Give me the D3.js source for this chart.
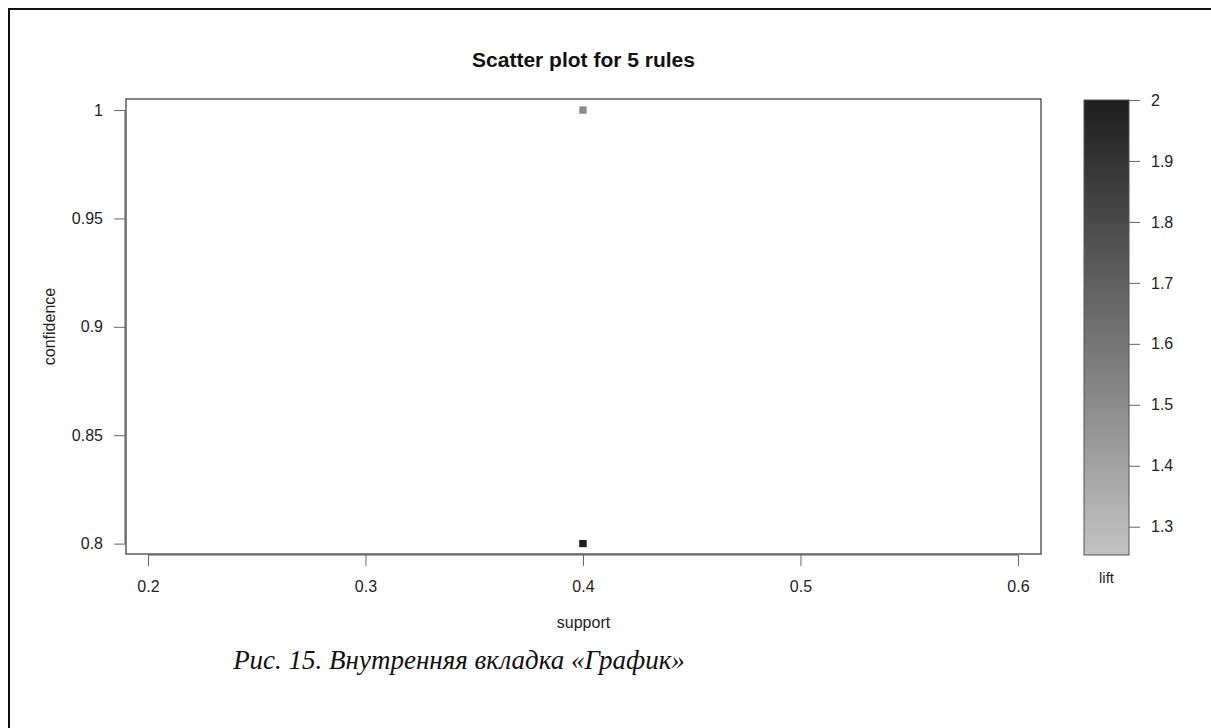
<!DOCTYPE html>
<html>
<head>
<meta charset="utf-8">
<script src="https://cdn.jsdelivr.net/npm/d3@7"></script>
<style>
  html, body { margin: 0; padding: 0; background: #fff; }
  svg { display: block; }
</style>
</head>
<body>
<svg id="chart" width="1211" height="728"></svg>
<script>
// ---- data ----
const ruleSupport    = [0.4, 0.4, 0.4, 0.4, 0.4];
const ruleConfidence = [1.0, 1.0, 1.0, 0.8, 0.8];
const ruleLift       = [1.25, 1.25, 1.5, 2.0, 2.0];
const xTicks = [0.2, 0.3, 0.4, 0.5, 0.6];
const yTicks = [0.8, 0.85, 0.9, 0.95, 1];
const liftTicks = [1.3, 1.4, 1.5, 1.6, 1.7, 1.8, 1.9, 2];
const titleText = "Scatter plot for 5 rules";
const xLabel = "support", yLabel = "confidence", liftLabel = "lift";
const captionText = "Рис. 15. Внутренняя вкладка «График»";

const svg = d3.select("#chart");
const font = "'Liberation Sans', Arial, Helvetica, sans-serif";

// outer frame (left and top edges)
svg.append("line").attr("x1", 9).attr("y1", 9).attr("x2", 1211).attr("y2", 9)
  .attr("stroke", "#111").attr("stroke-width", 2);
svg.append("line").attr("x1", 9).attr("y1", 8).attr("x2", 9).attr("y2", 728)
  .attr("stroke", "#111").attr("stroke-width", 2);

const plot = { left: 126, right: 1041, top: 99, bottom: 554 };

const x = d3.scaleLinear().domain([0.1899, 0.6106]).range([plot.left, plot.right]);
const y = d3.scaleLinear().domain([0.7952, 1.0051]).range([plot.bottom, plot.top]);

// title
svg.append("text").attr("x", (plot.left + plot.right) / 2).attr("y", 67)
  .attr("text-anchor", "middle").attr("font-family", font).attr("font-weight", "bold")
  .attr("font-size", 21).attr("fill", "#111").text(titleText);

// plot box
svg.append("rect").attr("x", plot.left).attr("y", plot.top)
  .attr("width", plot.right - plot.left).attr("height", plot.bottom - plot.top)
  .attr("fill", "none").attr("stroke", "#444").attr("stroke-width", 1.3);

// x axis
const xAxis = d3.axisBottom(x).tickValues(xTicks).tickSize(11).tickPadding(15)
  .tickFormat(d3.format("~g"));
const gx = svg.append("g").attr("transform", `translate(0,${plot.bottom + 1})`).call(xAxis);
gx.select(".domain").attr("d", `M${x(0.2)},0H${x(0.6)}`).attr("stroke", "#555");

// y axis
const yAxis = d3.axisLeft(y).tickValues(yTicks).tickSize(11).tickPadding(11)
  .tickFormat(d3.format("~g"));
const gy = svg.append("g").attr("transform", `translate(${plot.left - 1},0)`).call(yAxis);
gy.select(".domain").attr("d", `M0,${y(0.8)}V${y(1)}`).attr("stroke", "#555");

[gx, gy].forEach(g => {
  g.selectAll(".tick line").attr("stroke", "#666");
  g.selectAll("text").attr("font-family", font).attr("font-size", 16).attr("fill", "#222");
});

// axis labels
svg.append("text").attr("x", (plot.left + plot.right) / 2).attr("y", 628)
  .attr("text-anchor", "middle").attr("font-family", font).attr("font-size", 16)
  .attr("fill", "#222").text(xLabel);
svg.append("text").attr("transform", `translate(55,${(plot.top + plot.bottom) / 2}) rotate(-90)`)
  .attr("text-anchor", "middle").attr("font-family", font).attr("font-size", 16)
  .attr("fill", "#222").text(yLabel);

// color scale
const liftMin = d3.min(ruleLift), liftMax = d3.max(ruleLift);
const color = d3.scaleLinear().domain([liftMin, liftMax]).range(["#c2c2c2", "#1e1e1e"]);

// points
const rules = ruleSupport.map((s, i) => ({ s, c: ruleConfidence[i], l: ruleLift[i] }));
const ps = 7;
svg.append("g").selectAll("rect").data(rules).join("rect")
  .attr("x", d => x(d.s) - ps / 2).attr("y", d => y(d.c) - ps / 2)
  .attr("width", ps).attr("height", ps)
  .attr("fill", d => color(d.l));

// colorbar
const cb = { left: 1084, right: 1129, top: 100, bottom: 555 };
const lScale = d3.scaleLinear().domain([1.2536, 2.0]).range([cb.bottom, cb.top]);
const defs = svg.append("defs");
const grad = defs.append("linearGradient").attr("id", "liftGrad")
  .attr("x1", 0).attr("y1", 1).attr("x2", 0).attr("y2", 0);
d3.range(0, 1.0001, 0.1).forEach(t => {
  grad.append("stop").attr("offset", t).attr("stop-color", color(liftMin + t * (liftMax - liftMin)));
});
svg.append("rect").attr("x", cb.left).attr("y", cb.top)
  .attr("width", cb.right - cb.left).attr("height", cb.bottom - cb.top)
  .attr("fill", "url(#liftGrad)").attr("stroke", "#555").attr("stroke-width", 1);

const lAxis = d3.axisRight(lScale).tickValues(liftTicks).tickSize(11).tickPadding(11)
  .tickFormat(d3.format("~g"));
const gl = svg.append("g").attr("transform", `translate(${cb.right},0)`).call(lAxis);
gl.select(".domain").remove();
gl.selectAll(".tick line").attr("stroke", "#666");
gl.selectAll("text").attr("font-family", font).attr("font-size", 16).attr("fill", "#222");

svg.append("text").attr("x", (cb.left + cb.right) / 2).attr("y", 583)
  .attr("text-anchor", "middle").attr("font-family", font).attr("font-size", 15)
  .attr("fill", "#222").text(liftLabel);

// caption
svg.append("text").attr("x", 459).attr("y", 669)
  .attr("text-anchor", "middle").attr("font-family", "'Liberation Serif', 'Times New Roman', serif")
  .attr("font-style", "italic").attr("font-size", 27).attr("fill", "#111").text(captionText);
</script>
</body>
</html>
